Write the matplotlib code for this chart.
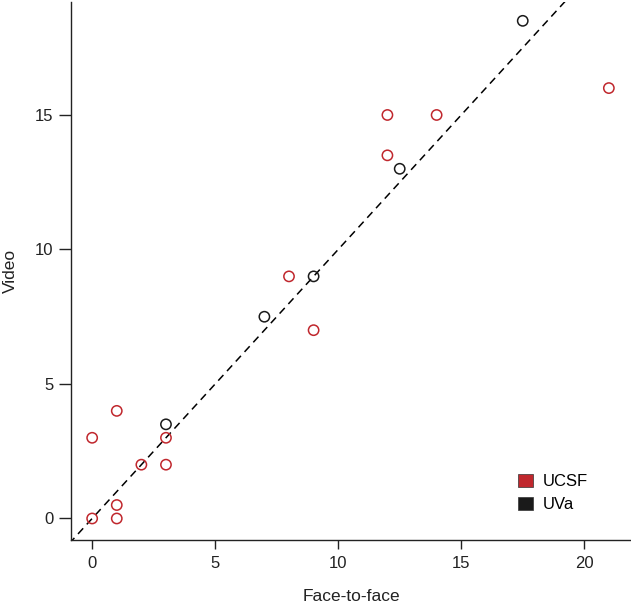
import matplotlib
matplotlib.use("Agg")
import matplotlib.pyplot as plt
from matplotlib.patches import Patch

plt.rcParams['font.family'] = ['Liberation Sans', 'DejaVu Sans']

ucsf_x = [0, 0, 1, 1, 1, 2, 3, 3, 8, 9, 12, 12, 14, 21]
ucsf_y = [0, 3, 4, 0.5, 0, 2, 3, 2, 9, 7, 15, 13.5, 15, 16]
uva_x = [3, 7, 9, 12.5, 17.5]
uva_y = [3.5, 7.5, 9, 13, 18.5]
x_ticks = [0, 5, 10, 15, 20]
y_ticks = [0, 5, 10, 15]

red = '#c0272d'
black = '#1a1a1a'

fig = plt.figure(figsize=(6.31, 6.04), dpi=100)
ax = fig.add_axes([71/631, 64/604, 1 - 71/631, 1 - 64/604 - 2/604])

ax.plot([-2, 25], [-2, 25], linestyle=(0, (5, 3.5)), color='black', lw=1.1, zorder=1)
ax.scatter(ucsf_x, ucsf_y, s=55, facecolors='none', edgecolors=red, linewidths=1.1, zorder=2)
ax.scatter(uva_x, uva_y, s=55, facecolors='none', edgecolors=black, linewidths=1.1, zorder=2)

ax.set_xlim(-0.86, 21.9)
ax.set_ylim(-0.8, 19.2)
ax.set_xticks(x_ticks)
ax.set_yticks(y_ticks)
for s in ['top', 'right']:
    ax.spines[s].set_visible(False)
for s in ['left', 'bottom']:
    ax.spines[s].set_linewidth(1.0)
    ax.spines[s].set_color('#222222')
ax.tick_params(axis='x', length=6.5, width=1.0, color='#222222', labelsize=12, pad=5, labelcolor='#222222')
ax.tick_params(axis='y', length=8.5, width=1.0, color='#222222', labelsize=12, pad=4.3, labelcolor='#222222')

ax.set_xlabel('Face-to-face', fontsize=12.5, labelpad=13, color='#222222')
ax.set_ylabel('Video', fontsize=12.5, labelpad=12, color='#222222')

handles = [Patch(facecolor=red, edgecolor='#333333', linewidth=0.5, label='UCSF'),
           Patch(facecolor=black, edgecolor='#333333', linewidth=0.5, label='UVa')]
ax.legend(handles=handles, loc='upper left', bbox_to_anchor=(0.799, 0.123), frameon=False,
          fontsize=12, handlelength=0.85, handleheight=0.85, handletextpad=0.6, labelspacing=0.45,
          borderaxespad=0, borderpad=0)

fig.savefig('out.png', dpi=100)
